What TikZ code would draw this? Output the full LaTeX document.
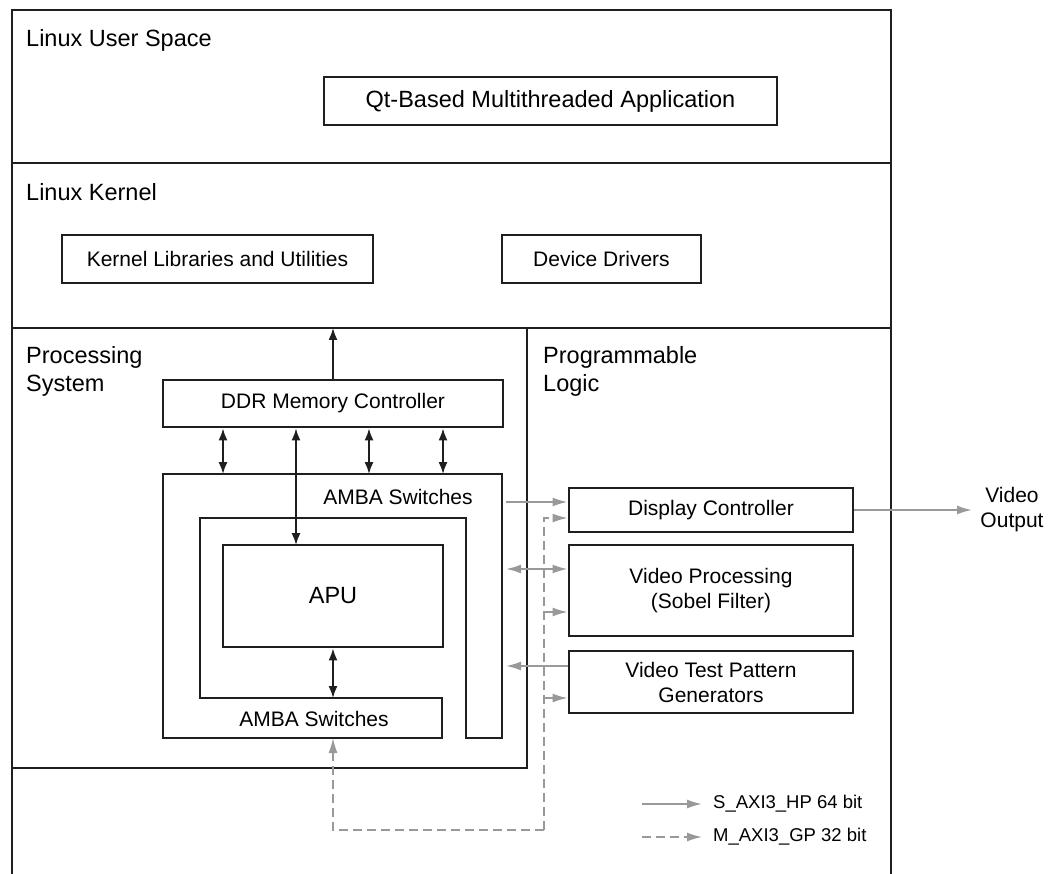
\documentclass[tikz,border=0pt]{standalone}
\usepackage{fontspec}
\setmainfont{Liberation Sans}
\usetikzlibrary{arrows.meta}
\definecolor{lg}{gray}{0.6}
\definecolor{ink}{gray}{0.12}
\tikzset{
  frameline/.style={line width=2.9pt, draw=ink},
  boxnode/.style={draw=ink, line width=2.9pt, align=center, inner sep=0pt,
    font=\fontsize{21}{25}\selectfont},
  sectlabel/.style={anchor=west, align=left, inner sep=0pt,
    font=\fontsize{23.5}{28}\selectfont},
  plain/.style={inner sep=0pt, align=center, font=\fontsize{21}{25}\selectfont},
  bitip/.style={line width=1.6pt, draw=ink,
    {Latex[length=12pt,width=9pt]}-{Latex[length=12pt,width=9pt]}},
  onetip/.style={line width=1.6pt, draw=ink, -{Latex[length=12pt,width=9pt]}},
  garrow/.style={line width=1.8pt, draw=lg, -{Latex[length=15pt,width=9pt]}},
  gbiarrow/.style={line width=1.8pt, draw=lg,
    {Latex[length=15pt,width=9pt]}-{Latex[length=15pt,width=9pt]}},
  gdash/.style={line width=1.6pt, draw=lg, dash pattern=on 9pt off 5pt},
  gdasharrow/.style={gdash, -{Latex[length=15pt,width=9pt]}},
  legtext/.style={anchor=west, inner sep=0pt, font=\fontsize{18.5}{22}\selectfont},
}
\begin{document}
\begin{tikzpicture}[x=1pt,y=-1pt]
\useasboundingbox (0,0) rectangle (1049,874);

% outer frame and section lines
\draw[frameline] (12,874) -- (12,10) -- (891,10) -- (891,874);
\draw[frameline] (12,163) -- (891,163);
\draw[frameline] (12,328) -- (891,328);
\draw[frameline] (527,328) -- (527,768) -- (12,768);

% section labels
\node[sectlabel] (lus) at (26,40) {Linux User Space};
\node[sectlabel] (lk) at (26,192) {Linux Kernel};
\node[sectlabel] (ps) at (26,371) {Processing\\System};
\node[sectlabel] (pl) at (543,371) {Programmable\\Logic};

% boxes
\node[boxnode, minimum width=453pt, minimum height=48pt,
  font=\fontsize{23.5}{28}\selectfont] (qt) at (550.5,101) {Qt-Based Multithreaded Application};
\node[boxnode, minimum width=311pt, minimum height=48pt] (klib) at (217.5,259) {Kernel Libraries and Utilities};
\node[boxnode, minimum width=199pt, minimum height=48pt] (dd) at (601.5,259) {Device Drivers};
\node[boxnode, minimum width=340pt, minimum height=47pt] (ddr) at (333,403.5) {DDR Memory Controller};
\node[boxnode, minimum width=220pt, minimum height=102pt,
  font=\fontsize{23.5}{28}\selectfont] (apu) at (333,596) {APU};
\node[boxnode, minimum width=284pt, minimum height=44pt] (disp) at (711,510) {Display Controller};
\node[boxnode, minimum width=284pt, minimum height=91pt] (vp) at (711,590.5) {Video Processing\\(Sobel Filter)};
\node[boxnode, minimum width=284pt, minimum height=62pt] (vtpg) at (711,682) {Video Test Pattern\\Generators};

% AMBA switches shape
\draw[frameline] (163,474) -- (502,474) -- (502,738) -- (466,738) -- (466,518)
  -- (200,518) -- (200,698) -- (442,698) -- (442,738) -- (163,738) -- cycle;
\node[plain] (ambatop) at (398,497) {AMBA Switches};
\node[plain] (ambabot) at (314,719) {AMBA Switches};

% coordinates
\coordinate (kb) at (333,328);
\coordinate (at1) at (223,474);
\coordinate (at2) at (369,474);
\coordinate (at3) at (443,474);
\coordinate (apuin) at (296,545);
\coordinate (abtop) at (333,698);
\coordinate (abbot) at (333,738);
\coordinate (ar1) at (506,502);
\coordinate (ar2) at (506,569);
\coordinate (ar3) at (506,666);
\coordinate (dv) at (544,518);
\coordinate (dv2) at (544,612);
\coordinate (dv3) at (544,698);
\coordinate (dcorner) at (544,830);
\coordinate (dleft) at (333,830);
\coordinate (vout) at (972,510);

% black arrows
\draw[onetip] (ddr.north) -- (kb);
\draw[bitip] (ddr.south -| at1) -- (at1);
\draw[bitip] (ddr.south -| at2) -- (at2);
\draw[bitip] (ddr.south -| at3) -- (at3);
\draw[bitip] (ddr.south -| apuin) -- (apuin);
\draw[bitip] (apu.south) -- (abtop);

% gray solid arrows
\draw[garrow] (ar1) -- (ar1 -| disp.west);
\draw[gbiarrow] (ar2) -- (ar2 -| vp.west);
\draw[garrow] (ar3 -| vtpg.west) -- (ar3);
\draw[garrow] (disp.east) -- (vout);
\node[plain] (vo) at (1012,510) {Video\\Output};

% dashed
\draw[gdasharrow] (dcorner) -- (dleft) -- (abbot);
\draw[gdasharrow] (dcorner) -- (dv) -- (dv -| disp.west);
\draw[gdasharrow] (dv2) -- (dv2 -| vp.west);
\draw[gdasharrow] (dv3) -- (dv3 -| vtpg.west);

% legend
\coordinate (l1a) at (642,804);
\coordinate (l1b) at (702,804);
\coordinate (l2a) at (642,837);
\coordinate (l2b) at (702,837);
\draw[garrow] (l1a) -- (l1b);
\draw[gdasharrow] (l2a) -- (l2b);
\node[legtext] (lt1) at (713,804) {S\_AXI3\_HP 64 bit};
\node[legtext] (lt2) at (713,837) {M\_AXI3\_GP 32 bit};
\end{tikzpicture}
\end{document}
